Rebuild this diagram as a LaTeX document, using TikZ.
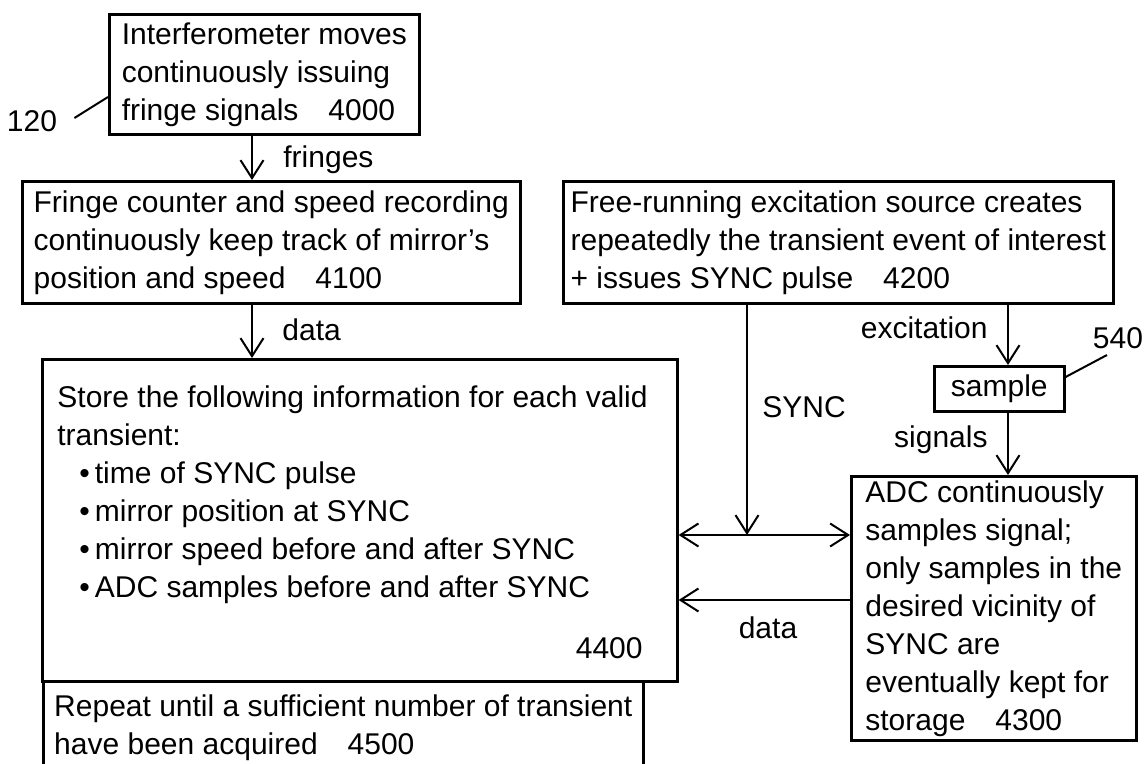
\documentclass[tikz,border=0pt]{standalone}
\usepackage{fontspec}
\setmainfont{Liberation Sans}
\usetikzlibrary{positioning,arrows.meta}

\tikzset{
    every node/.style={font=\fontsize{15}{19}\selectfont},
    box/.style={draw, line width=1.3pt, inner sep=0pt, align=left, anchor=north west},
    arr/.style={line width=1pt, -{Straight Barb[length=9pt,width=11.5pt,line width=1pt]}},
    dblarr/.style={line width=1pt, {Straight Barb[length=9pt,width=11.5pt,line width=1pt]}-{Straight Barb[length=9pt,width=11.5pt,line width=1pt]}},
    lead/.style={line width=1pt},
}

\begin{document}
\begin{tikzpicture}[x=0.5pt, y=-0.5pt]
            \useasboundingbox (0,0) rectangle (1147,764);

            \coordinate (fx) at (252,0);
            \coordinate (sx) at (747,0);
            \coordinate (ex) at (1008,0);
            \coordinate (junc) at (747,535);
            \coordinate (back) at (0,600);
            \coordinate (l120) at (108,97);
            \coordinate (l540) at (1107,355);

            \node[box, minimum width=155pt, minimum height=60pt] (interf) at (108,13)
                {Interferometer moves\\continuously issuing\\fringe signals\quad 4000};
            \node[box, minimum width=249pt, minimum height=61pt] (counter) at (21,180)
                {Fringe counter and speed recording\\continuously keep track of mirror's\\position and speed\quad 4100};
            \node[box, minimum width=275pt, minimum height=61pt] (source) at (562,180)
                {Free-running excitation source creates\\repeatedly the transient event of interest\\+ issues SYNC pulse\quad 4200};
            \node[box, minimum width=317.5pt, minimum height=161pt] (store) at (41,358) {};
            \node[box, minimum width=300pt, minimum height=46pt] (repeat) at (42,680)
                {Repeat until a sufficient number of transient\\have been acquired\quad 4500};
            \node[box, minimum width=65pt, minimum height=22.5pt, align=center] (sample) at (933,365) {sample};
            \node[box, minimum width=142.5pt, minimum height=132pt] (adc) at (850,475)
                {ADC continuously\\samples signal;\\only samples in the\\desired vicinity of\\SYNC are\\eventually kept for\\storage\quad 4300};

            \node[inner sep=0pt, align=left, anchor=north west] (storetext) at ([shift={(16,27)}]store.north west)
                {Store the following information for each valid\\transient:\\
                \hspace*{11pt}\textbullet\,time of SYNC pulse\\
                \hspace*{11pt}\textbullet\,mirror position at SYNC\\
                \hspace*{11pt}\textbullet\,mirror speed before and after SYNC\\
                \hspace*{11pt}\textbullet\,ADC samples before and after SYNC};
            \node[inner sep=0pt, anchor=east] (num4400) at (643,648) {4400};

            \node[inner sep=0pt] (lab120) at (32,121) {120};
            \node[inner sep=0pt] (lab540) at (1118,338) {540};
            \node[inner sep=0pt, anchor=west] (fringes) at (283,160) {fringes};
            \node[inner sep=0pt, anchor=west] (data1) at (282,330) {data};
            \node[inner sep=0pt, anchor=west] (sync) at (762,407) {SYNC};
            \node[inner sep=0pt, anchor=east] (excit) at (988,328) {excitation};
            \node[inner sep=0pt, anchor=east] (signals) at (988,440) {signals};
            \node[inner sep=0pt] (data2) at (768,628) {data};

            \draw[arr] (interf.south -| fx) -- (counter.north -| fx);
            \draw[arr] (counter.south -| fx) -- (store.north -| fx);
            \draw[arr] (source.south -| sx) -- (junc);
            \draw[dblarr] (store.east |- junc) -- (adc.west |- junc);
            \draw[arr] (adc.west |- back) -- (store.east |- back);
            \draw[arr] (source.south -| ex) -- (sample.north -| ex);
            \draw[arr] (sample.south -| ex) -- (adc.north -| ex);

            \draw[lead] (lab120.east) ++(17,-3) -- (l120);
            \draw[lead] (sample.east |- 0,377) -- (l540);
\end{tikzpicture}
\end{document}
